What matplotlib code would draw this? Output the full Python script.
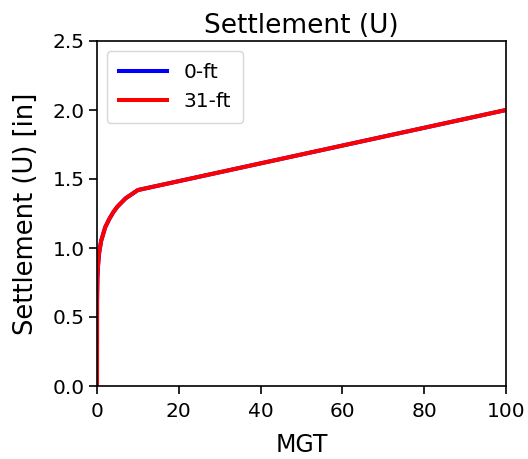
import matplotlib
matplotlib.use('Agg')
import matplotlib.pyplot as plt

# settlement curve
mgt = [0, 0.02, 0.1, 0.25, 0.5, 1, 2, 3, 4, 5, 6, 7, 8, 9, 10, 100]
u_0ft = [0, 0.62, 0.78, 0.87, 0.96, 1.05, 1.15, 1.21, 1.26, 1.30, 1.33, 1.36, 1.38, 1.40, 1.42, 2.0]
u_31ft = [0, 0.62, 0.78, 0.87, 0.96, 1.05, 1.15, 1.21, 1.26, 1.30, 1.33, 1.36, 1.38, 1.40, 1.42, 2.0]

fig = plt.figure(figsize=(5.28, 4.59), dpi=100)
ax = fig.add_axes([97 / 528, 1 - 386 / 459, 409 / 528, 345 / 459])

ax.plot(mgt, u_0ft, color='blue', lw=2.9, label='0-ft')
ax.plot(mgt, u_31ft, color='red', lw=2.9, label='31-ft')

ax.set_xlim(0, 100)
ax.set_ylim(0, 2.5)
ax.set_xlabel('MGT', fontsize=17, labelpad=9)
ax.set_ylabel('Settlement (U) [in]', fontsize=18.5, labelpad=10)
ax.set_title('Settlement (U)', fontsize=19, pad=6)
ax.tick_params(labelsize=14.5, length=5.5, width=1.2)
ax.tick_params(axis='x', pad=6)
for s in ax.spines.values():
    s.set_linewidth(1.2)
ax.legend(loc='upper left', fontsize=14.5, handlelength=2.4, borderpad=0.6)

fig.savefig('out.png', dpi=100)
